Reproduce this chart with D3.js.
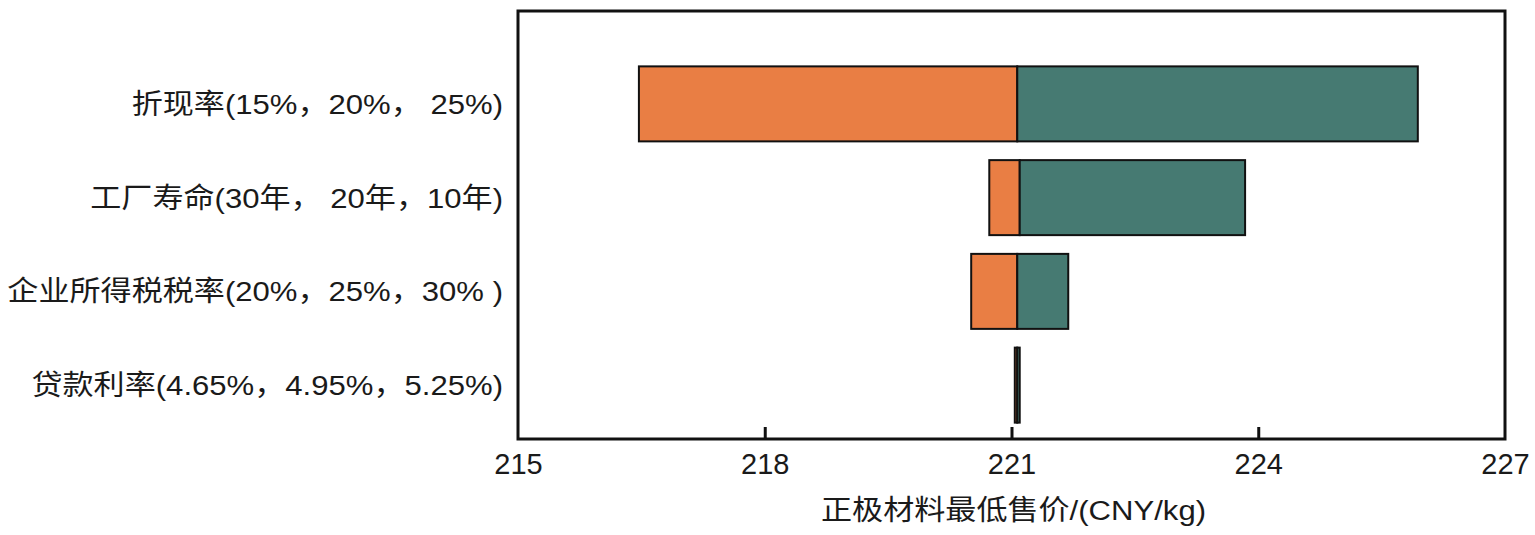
<!DOCTYPE html>
<html>
<head>
<meta charset="utf-8">
<script src="https://cdn.jsdelivr.net/npm/d3@7"></script>
<style>
  body{margin:0;background:#fff;}
  text{font-family:"Liberation Sans","Noto Sans CJK SC",sans-serif;fill:#1a1a1a;}
</style>
</head>
<body>
<svg id="chart" width="1535" height="535"></svg>
<script>
// tornado chart data
var categories=["折现率(15%，20%， 25%)","工厂寿命(30年， 20年，10年)","企业所得税税率(20%，25%，30% )","贷款利率(4.65%，4.95%，5.25%)"];
var lowValues=[216.47,220.73,220.51,221.04];
var baseValues=[221.07,221.10,221.07,221.07];
var highValues=[225.94,223.84,221.69,221.10];
var xTicks=[215,218,221,224,227];
var xTitle="正极材料最低售价/(CNY/kg)";

var svg=d3.select("#chart");
var plotLeft=518,plotRight=1505,plotTop=11,plotBottom=439;
var stretch=1.11;   //text in the source is a bit wider than our fonts

var x=d3.scaleLinear().domain([215,227]).range([plotLeft,plotRight]);
var y=d3.scaleBand().domain(categories).range([57,432]).paddingInner(0.2).paddingOuter(0.1);

var rows=categories.map(function(c,i){
  return {name:c,low:lowValues[i],base:baseValues[i],high:highValues[i]};
});

//orange part (low -> base)
svg.append("g").selectAll("rect.low")
  .data(rows).enter().append("rect")
    .attr("class","low")
    .attr("x",function(d){return x(d.low);})
    .attr("y",function(d){return y(d.name);})
    .attr("width",function(d){return x(d.base)-x(d.low);})
    .attr("height",y.bandwidth())
    .attr("fill","#E97E44")
    .attr("stroke","#111")
    .attr("stroke-width",2);

//teal part (base -> high)
svg.append("g").selectAll("rect.high")
  .data(rows).enter().append("rect")
    .attr("class","high")
    .attr("x",function(d){return x(d.base);})
    .attr("y",function(d){return y(d.name);})
    .attr("width",function(d){return x(d.high)-x(d.base);})
    .attr("height",y.bandwidth())
    .attr("fill","#467A72")
    .attr("stroke","#111")
    .attr("stroke-width",2);

//frame
svg.append("rect")
  .attr("x",plotLeft).attr("y",plotTop)
  .attr("width",plotRight-plotLeft).attr("height",plotBottom-plotTop)
  .attr("fill","none").attr("stroke","#111").attr("stroke-width",3);

//x axis with inward ticks
var xAxis=d3.axisBottom(x).tickValues(xTicks).tickSize(0).tickPadding(14).tickFormat(d3.format("d"));
var gx=svg.append("g").attr("transform","translate(0,"+plotBottom+")").call(xAxis);
gx.select(".domain").remove();
gx.selectAll("text").attr("font-size",29).attr("font-family","Liberation Sans, sans-serif").attr("fill","#1a1a1a");
gx.selectAll(".tick").filter(function(d){return d>215&&d<227;})
  .append("line").attr("y1",0).attr("y2",-12).attr("stroke","#111").attr("stroke-width",3);

//category labels
svg.append("g").selectAll("text")
  .data(categories).enter().append("text")
    .attr("transform",function(d){return "translate(503,"+(y(d)+y.bandwidth()/2+10)+") scale("+stretch+",1)";})
    .attr("text-anchor","end")
    .attr("font-size",28)
    .text(function(d){return d;});

//x title
svg.append("text")
  .attr("transform","translate("+((plotLeft+plotRight)/2+2)+",520) scale("+stretch+",1)")
  .attr("text-anchor","middle")
  .attr("font-size",28)
  .text(xTitle);
</script>
</body>
</html>
